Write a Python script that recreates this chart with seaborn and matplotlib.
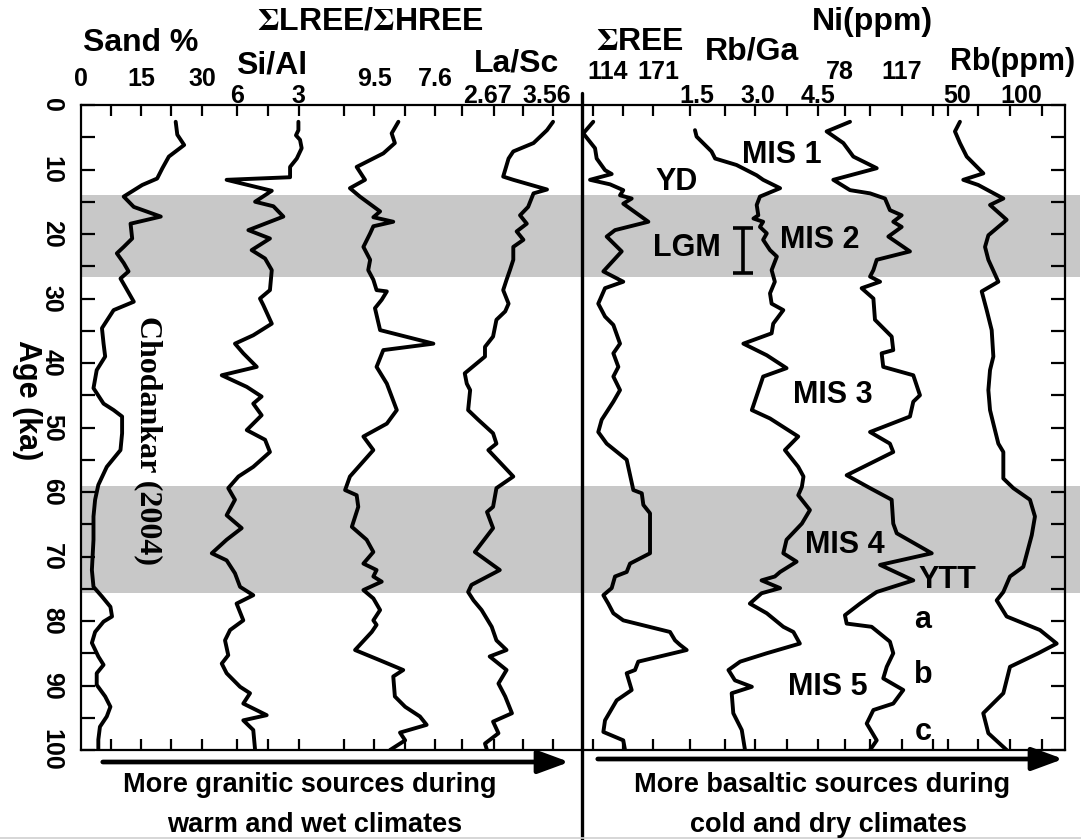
import numpy as np
import pandas as pd
import matplotlib
matplotlib.use("Agg")
import matplotlib.pyplot as plt
from matplotlib.lines import Line2D
from matplotlib.patches import FancyArrowPatch
import seaborn as sns

# ---------------- down-core records (age in ka) ----------------
SAND_AGE = [2.6, 4.6, 6.2, 8.0, 9.8, 11.4, 12.4, 14.2, 15.8, 17.3, 18.4, 20.7, 22.0, 23.0, 24.5,
            25.8, 26.9, 28.2, 30.5, 31.8, 34.6, 37.0, 39.0, 41.1, 43.9, 46.3, 47.3, 48.3, 50.9, 53.5,
            56.1, 58.9, 61.2, 63.8, 67.4, 72.1, 74.7, 76.2, 77.8, 79.3, 80.1, 81.7, 83.4, 85.5, 86.8,
            88.1, 89.9, 91.7, 93.3, 94.8, 96.4, 98.4, 100.0]
SAND = [23.5, 23.9, 25.6, 21.8, 20.2, 18.9, 15.2, 10.6, 13.1, 19.8, 12.3, 12.7, 10.6, 8.9, 10.6,
        11.8, 9.8, 11.0, 13.1, 8.1, 5.2, 5.6, 6.0, 3.9, 3.1, 5.6, 8.1, 10.2, 10.2, 9.8,
        6.4, 4.3, 3.5, 3.1, 3.1, 2.7, 3.1, 5.2, 7.3, 7.7, 5.6, 3.5, 2.7, 4.3, 5.6,
        3.9, 3.9, 6.0, 7.3, 6.4, 4.7, 4.3, 4.3]

SIAL_AGE = [2.6, 3.9, 4.7, 5.4, 6.7, 8.3, 9.6, 11.2, 11.6, 13.3, 15.0, 15.7, 17.3, 19.4, 20.7,
            22.5, 23.8, 25.6, 28.7, 30.0, 31.0, 33.9, 35.7, 37.0, 38.5, 40.6, 41.9, 43.7, 45.2, 46.3,
            48.1, 50.4, 51.9, 53.8, 56.1, 57.6, 59.4, 61.2, 63.6, 65.6, 67.4, 69.5, 70.6, 72.6, 74.7,
            76.0, 77.3, 79.9, 81.4, 83.0, 85.3, 86.6, 88.1, 90.2, 91.2, 92.8, 94.6, 95.4, 96.9, 100.0]
SIAL = [2.98, 2.98, 3.10, 2.90, 2.82, 3.06, 3.39, 3.39, 6.51, 4.29, 5.11, 4.21, 3.72, 5.44, 4.38,
        5.28, 4.62, 4.29, 4.38, 4.87, 4.71, 4.29, 5.20, 6.10, 5.69, 5.03, 6.75, 5.52, 4.79, 5.20,
        4.79, 5.52, 4.62, 4.38, 5.20, 5.93, 6.43, 6.10, 6.51, 5.77, 6.51, 7.24, 6.51, 6.10, 5.85,
        5.20, 6.02, 5.69, 6.34, 6.59, 6.43, 6.75, 6.51, 5.85, 5.36, 5.69, 4.54, 5.69, 5.20, 5.11]

LREE_AGE = [2.6, 4.4, 5.9, 7.5, 9.6, 11.6, 12.9, 14.2, 16.5, 17.4, 18.1, 18.8, 19.9, 22.0, 24.0,
            25.6, 27.1, 28.7, 28.9, 30.2, 31.5, 34.9, 37.0, 38.0, 40.6, 43.2, 47.3, 49.4, 51.4, 53.5,
            57.6, 59.7, 60.5, 62.3, 65.4, 67.4, 69.3, 71.1, 72.1, 73.1, 73.9, 75.2, 76.5, 78.3, 79.9,
            80.6, 81.7, 84.5, 86.1, 87.6, 88.6, 91.7, 93.3, 94.8, 96.1, 97.3, 98.5, 100.0]
LREE_HREE = [8.74, 8.95, 8.85, 9.21, 10.04, 9.78, 10.25, 9.94, 9.31, 9.52, 8.90, 9.52, 9.62, 9.83, 9.62,
             9.68, 9.52, 9.42, 9.10, 9.26, 9.47, 9.31, 7.65, 9.21, 9.42, 9.10, 8.79, 9.10, 9.83, 9.52,
             10.25, 10.40, 10.04, 9.99, 10.19, 9.73, 9.52, 9.83, 9.42, 9.52, 9.26, 9.83, 9.52, 9.31, 9.52,
             9.42, 9.57, 10.09, 9.31, 8.59, 8.90, 8.85, 8.53, 8.07, 7.86, 8.69, 8.53, 9.00]

LASC_AGE = [2.6, 3.9, 5.9, 7.2, 8.3, 11.1, 11.6, 13.1, 13.7, 15.8, 17.1, 18.4, 19.6, 20.9, 22.0,
            24.0, 25.6, 27.1, 28.7, 30.8, 32.0, 33.3, 35.9, 37.5, 39.0, 41.6, 43.2, 44.2, 47.3, 48.8,
            50.9, 52.5, 53.5, 57.6, 59.4, 62.3, 63.1, 65.6, 69.3, 72.1, 74.4, 75.5, 76.8, 78.3, 80.9,
            83.0, 84.5, 85.5, 87.6, 89.7, 91.7, 94.3, 95.6, 97.4, 99.0, 100.0]
LA_SC = [3.65, 3.56, 3.36, 3.06, 2.99, 2.91, 3.06, 3.56, 3.36, 3.28, 3.16, 3.26, 3.11, 3.21, 3.06,
         3.06, 3.01, 2.96, 2.91, 2.99, 2.94, 2.81, 2.76, 2.64, 2.64, 2.34, 2.37, 2.42, 2.39, 2.54,
         2.76, 2.81, 2.69, 3.06, 2.81, 2.76, 2.67, 2.76, 2.49, 2.86, 2.44, 2.39, 2.47, 2.59, 2.74,
         2.81, 2.96, 2.71, 2.96, 2.84, 2.94, 3.04, 2.76, 2.84, 2.64, 2.67]

REE_AGE = [2.6, 4.4, 6.7, 8.3, 10.1, 10.7, 11.6, 12.3, 13.2, 14.0, 14.5, 15.3, 18.1, 19.4, 20.4,
           22.7, 25.8, 27.4, 28.4, 30.8, 32.8, 34.1, 37.0, 38.5, 40.6, 42.1, 44.2, 46.0, 48.8, 50.7,
           52.5, 55.0, 59.7, 60.2, 62.0, 63.3, 69.5, 71.1, 72.4, 73.1, 74.9, 76.0, 77.3, 78.8, 79.9,
           81.7, 83.0, 83.7, 84.5, 86.3, 87.6, 88.1, 90.7, 92.3, 95.4, 97.2, 98.5, 100.0]
SUM_REE = [97.2, 85.8, 99.2, 101.1, 110.6, 118.2, 93.5, 116.3, 131.4, 127.7, 141.0, 131.4, 160.0, 122.0, 112.5,
           129.6, 108.7, 131.4, 110.6, 102.9, 110.6, 120.1, 127.7, 120.1, 125.8, 120.1, 127.7, 120.1, 106.8, 102.9,
           112.5, 135.3, 142.9, 152.5, 154.3, 161.9, 161.9, 139.1, 135.3, 122.0, 118.2, 108.7, 114.3, 120.1, 131.4,
           184.7, 190.4, 196.1, 203.7, 148.5, 144.8, 135.3, 141.0, 123.9, 110.6, 108.7, 131.4, 133.4]

RBGA_AGE = [3.9, 4.9, 7.2, 8.3, 9.3, 10.9, 11.6, 12.9, 14.2, 15.5, 17.1, 17.6, 18.1, 18.9, 19.9,
            20.9, 22.5, 23.5, 25.6, 27.4, 29.2, 30.8, 31.8, 33.9, 35.4, 37.0, 38.8, 40.8, 42.1, 47.3,
            48.6, 51.4, 53.5, 56.1, 57.6, 59.2, 60.5, 62.8, 64.9, 67.4, 69.5, 70.8, 72.4, 73.1, 73.7,
            74.9, 75.7, 77.3, 78.8, 80.9, 81.7, 83.5, 85.0, 86.3, 87.6, 89.2, 90.2, 91.2, 94.3, 96.9, 100.0]
RB_GA = [1.45, 1.49, 1.86, 1.95, 2.48, 2.98, 3.14, 3.56, 3.06, 2.98, 3.02, 2.90, 3.14, 3.06, 3.23,
         3.14, 3.31, 3.48, 3.35, 3.43, 3.31, 3.35, 3.64, 3.39, 3.35, 2.65, 3.23, 3.72, 3.14, 2.86,
         3.31, 4.01, 3.68, 4.01, 4.14, 4.10, 4.01, 4.30, 4.10, 3.72, 3.64, 3.97, 3.56, 3.43, 3.10,
         3.56, 3.10, 2.81, 3.23, 3.64, 3.89, 4.05, 3.23, 2.57, 2.28, 2.44, 2.86, 2.36, 2.40, 2.61, 2.69]

NI_AGE = [2.6, 4.1, 5.9, 8.0, 9.8, 11.6, 13.2, 13.7, 14.5, 16.3, 17.1, 18.1, 18.9, 20.4, 22.7,
          24.0, 25.6, 26.6, 27.4, 28.4, 30.0, 33.3, 35.9, 38.0, 38.5, 40.6, 41.9, 45.0, 46.0, 48.3,
          50.7, 52.5, 53.8, 57.4, 59.4, 61.2, 64.9, 66.4, 69.5, 71.3, 73.7, 75.5, 76.2, 77.3, 79.1,
          80.4, 80.9, 83.2, 85.0, 87.1, 88.9, 90.7, 92.8, 93.8, 95.9, 98.5, 100.0]
NI_PPM = [84.3, 69.6, 80.1, 86.4, 101.1, 73.8, 84.3, 96.9, 106.3, 109.4, 116.8, 111.5, 116.8, 108.4, 122.0,
          101.1, 99.0, 96.9, 103.2, 91.6, 99.0, 100.0, 110.5, 111.5, 104.2, 105.2, 124.1, 128.3, 124.1, 122.0,
          96.9, 109.4, 111.5, 82.2, 96.9, 110.5, 111.5, 113.7, 135.7, 103.2, 124.1, 101.1, 96.9, 90.6, 81.1,
          82.2, 97.9, 109.4, 111.5, 107.4, 105.2, 117.8, 111.5, 99.0, 94.8, 101.1, 96.9]

RB_AGE = [2.6, 4.1, 5.9, 8.0, 10.6, 11.6, 12.4, 14.5, 15.5, 17.8, 20.2, 22.0, 24.0, 27.4, 28.9,
          31.8, 34.9, 39.0, 41.1, 44.2, 47.3, 49.4, 52.5, 53.8, 57.9, 59.4, 61.2, 63.8, 66.7, 71.6,
          73.1, 75.5, 76.8, 79.3, 81.4, 83.5, 85.0, 87.1, 91.2, 94.3, 97.4, 100.0]
RB_PPM = [52.3, 48.4, 52.3, 57.6, 70.6, 54.9, 66.6, 86.2, 75.8, 88.8, 74.5, 71.9, 74.5, 82.3, 69.3,
          73.2, 77.1, 78.4, 75.8, 74.5, 75.8, 78.4, 82.3, 86.2, 86.2, 94.0, 107.0, 110.9, 108.4, 101.8,
          91.4, 86.2, 81.0, 88.8, 114.8, 127.9, 113.5, 91.4, 86.2, 70.5, 74.5, 88.8]

# cold stages shaded (ka) and the LGM interval
COLD_STAGES = [(13.9, 26.7), (59.1, 75.6)]
LGM_AGE = (19.0, 26.0)

# ---------------- style ----------------
sns.set_theme(style="white")
plt.rcParams["font.family"] = ["Liberation Sans", "DejaVu Sans"]
plt.rcParams["font.weight"] = "bold"
plt.rcParams["mathtext.fontset"] = "stix"
for key in ("text.color", "axes.labelcolor", "xtick.color", "ytick.color", "axes.edgecolor"):
    plt.rcParams[key] = "black"

W, H = 1081, 840
fig = plt.figure(figsize=(W / 100, H / 100), dpi=100)


def fx(px):
    return px / W


def fy(py):
    return 1 - py / H


LEFT, RIGHT, TOP, BOTTOM = 81, 1065, 105, 750
ax = fig.add_axes([fx(LEFT), fy(BOTTOM), (RIGHT - LEFT) / W, (BOTTOM - TOP) / H])
ax.set_xlim(LEFT, RIGHT)
ax.set_ylim(100, 0)

for lo, hi in COLD_STAGES:
    ax.axhspan(lo, hi, xmin=0, xmax=(1080 - LEFT) / (RIGHT - LEFT), color="#c8c8c8",
               lw=0, zorder=0, clip_on=False)

# each record gets its own x scale: (value_a, px_a, value_b, px_b) places it in the strip
PAD_LOW, PAD_UPL, PAD_UPR = -2.4, 9.9, 14.9
records = [
    (SAND_AGE, SAND, (0, 80, 30, 201), [0, 15, 30], ["0", "15", "30"], PAD_UPL),
    (SIAL_AGE, SIAL, (6, 237, 3, 298), [6, 3], ["6", "3"], PAD_LOW),
    (LREE_AGE, LREE_HREE, (9.5, 374, 7.6, 435), [9.5, 7.6], ["9.5", "7.6"], PAD_UPL),
    (LASC_AGE, LA_SC, (2.67, 487, 3.56, 547), [2.67, 3.56], ["2.67", "3.56"], PAD_LOW),
    (REE_AGE, SUM_REE, (114, 608, 171, 658), [114, 171], ["114", "171"], PAD_UPR),
    (RBGA_AGE, RB_GA, (1.5, 697, 4.5, 818), [1.5, 3.0, 4.5], ["1.5", "3.0", "4.5"], PAD_LOW),
    (NI_AGE, NI_PPM, (78, 840, 117, 902), [78, 117], ["78", "117"], PAD_UPR),
    (RB_AGE, RB_PPM, (50, 957, 100, 1021), [50, 100], ["50", "100"], PAD_LOW),
]

for age, vals, (va, pa, vb, pb), ticks, labels, pad in records:
    tw = ax.twiny()
    slope = (vb - va) / (pb - pa)
    tw.set_xlim(va + (LEFT - pa) * slope, va + (RIGHT - pa) * slope)
    df = pd.DataFrame({"age": age, "value": vals})
    sns.lineplot(data=df, x="value", y="age", orient="y", sort=False, estimator=None,
                 color="black", lw=2.8, ax=tw)
    tw.set_xticks(ticks)
    tw.set_xticklabels(labels)
    tw.tick_params(axis="x", top=True, bottom=False, labeltop=True, labelbottom=False,
                   length=0, pad=pad, labelsize=18, labelcolor="black")
    tw.set_xlabel("")
    tw.set_ylabel("")
    tw.grid(False)
    for sp in tw.spines.values():
        sp.set_visible(False)

# frame ruler ticks along top and bottom
FRAME_TICKS = [111, 141, 171, 202, 237, 268, 299, 344, 374, 405, 435, 462, 494, 523, 553,
               593, 623, 653, 690, 725, 755, 787, 818, 845, 870, 902, 933, 948, 978, 1010, 1042]
ax.set_xticks(FRAME_TICKS)
ax.tick_params(axis="x", direction="in", top=True, bottom=True, labeltop=False,
               labelbottom=False, length=8, width=1.6, color="black")
yt = list(range(0, 101, 5))
ax.set_yticks(yt)
ax.set_yticklabels([str(v) if v % 10 == 0 else "" for v in yt], rotation=-90,
                   ha="center", va="center")
ax.tick_params(axis="y", direction="in", left=True, right=True, length=10, width=1.6,
               color="black", pad=21, labelsize=18, labelcolor="black")
for sp in ax.spines.values():
    sp.set_visible(True)
    sp.set_color("black")
    sp.set_linewidth(1.6)
ax.grid(False)
ax.set_ylim(100, 0)

# LGM bracket
ax.errorbar([743], [np.mean(LGM_AGE)], yerr=[[np.mean(LGM_AGE) - LGM_AGE[0]], [LGM_AGE[1] - np.mean(LGM_AGE)]],
            fmt="none", ecolor="black", elinewidth=2.6, capsize=7, capthick=2.6, zorder=5)

# divider between the two groups of proxies
fig.add_artist(Line2D([fx(582)] * 2, [fy(93), fy(840)], color="black", lw=2.4))
fig.add_artist(Line2D([0, 1], [fy(838)] * 2, color="#cfcfcf", lw=1.2))

# series names
HEAD = dict(fontsize=23, fontweight="bold", ha="center", va="center")
fig.text(fx(141), fy(43), "Sand %", **HEAD)
fig.text(fx(272), fy(65), "Si/Al", **HEAD)
fig.text(fx(370), fy(22), r"$\Sigma$LREE/$\Sigma$HREE", **HEAD)
fig.text(fx(517), fy(63), "La/Sc", **HEAD)
fig.text(fx(640), fy(42), r"$\Sigma$REE", **HEAD)
fig.text(fx(752), fy(52), "Rb/Ga", **HEAD)
fig.text(fx(872), fy(22), "Ni(ppm)", **HEAD)
fig.text(fx(1013), fy(62), "Rb(ppm)", fontsize=22, fontweight="bold", ha="center", va="center")

fig.text(fx(27), fy(400), "Age (ka)", rotation=-90, fontsize=22, fontweight="bold",
         ha="center", va="center")

# event / stage annotations
NOTE = dict(fontsize=22, fontweight="bold", ha="center", va="center")
for txt, x, y in [("MIS 1", 782, 155), ("YD", 677, 182), ("LGM", 687, 248), ("MIS 2", 820, 240),
                  ("MIS 3", 833, 395), ("MIS 4", 845, 545), ("YTT", 947, 580), ("a", 923, 620),
                  ("b", 923, 675), ("MIS 5", 828, 687), ("c", 923, 732)]:
    fig.text(fx(x), fy(y), txt, **NOTE)

fig.text(fx(148), fy(440), "Chodankar (2004)", rotation=-90, fontsize=23, fontweight="bold",
         family=["Liberation Serif", "DejaVu Serif"], ha="center", va="center")

# direction arrows and captions
for x0, x1, y in [(100, 572, 762), (595, 1066, 759)]:
    fig.add_artist(FancyArrowPatch((fx(x0), fy(y)), (fx(x1), fy(y)), transform=fig.transFigure,
                                   arrowstyle="-|>,head_length=0.95,head_width=0.35",
                                   mutation_scale=20, lw=3.4, color="black"))
CAP = dict(fontsize=19.5, fontweight="bold", ha="center", va="center")
fig.text(fx(310), fy(785), "More granitic sources during", **CAP)
fig.text(fx(315), fy(825), "warm and wet climates", **CAP)
fig.text(fx(822), fy(785), "More basaltic sources during", **CAP)
fig.text(fx(828), fy(825), "cold and dry climates", **CAP)

fig.savefig("out.png", dpi=100)
